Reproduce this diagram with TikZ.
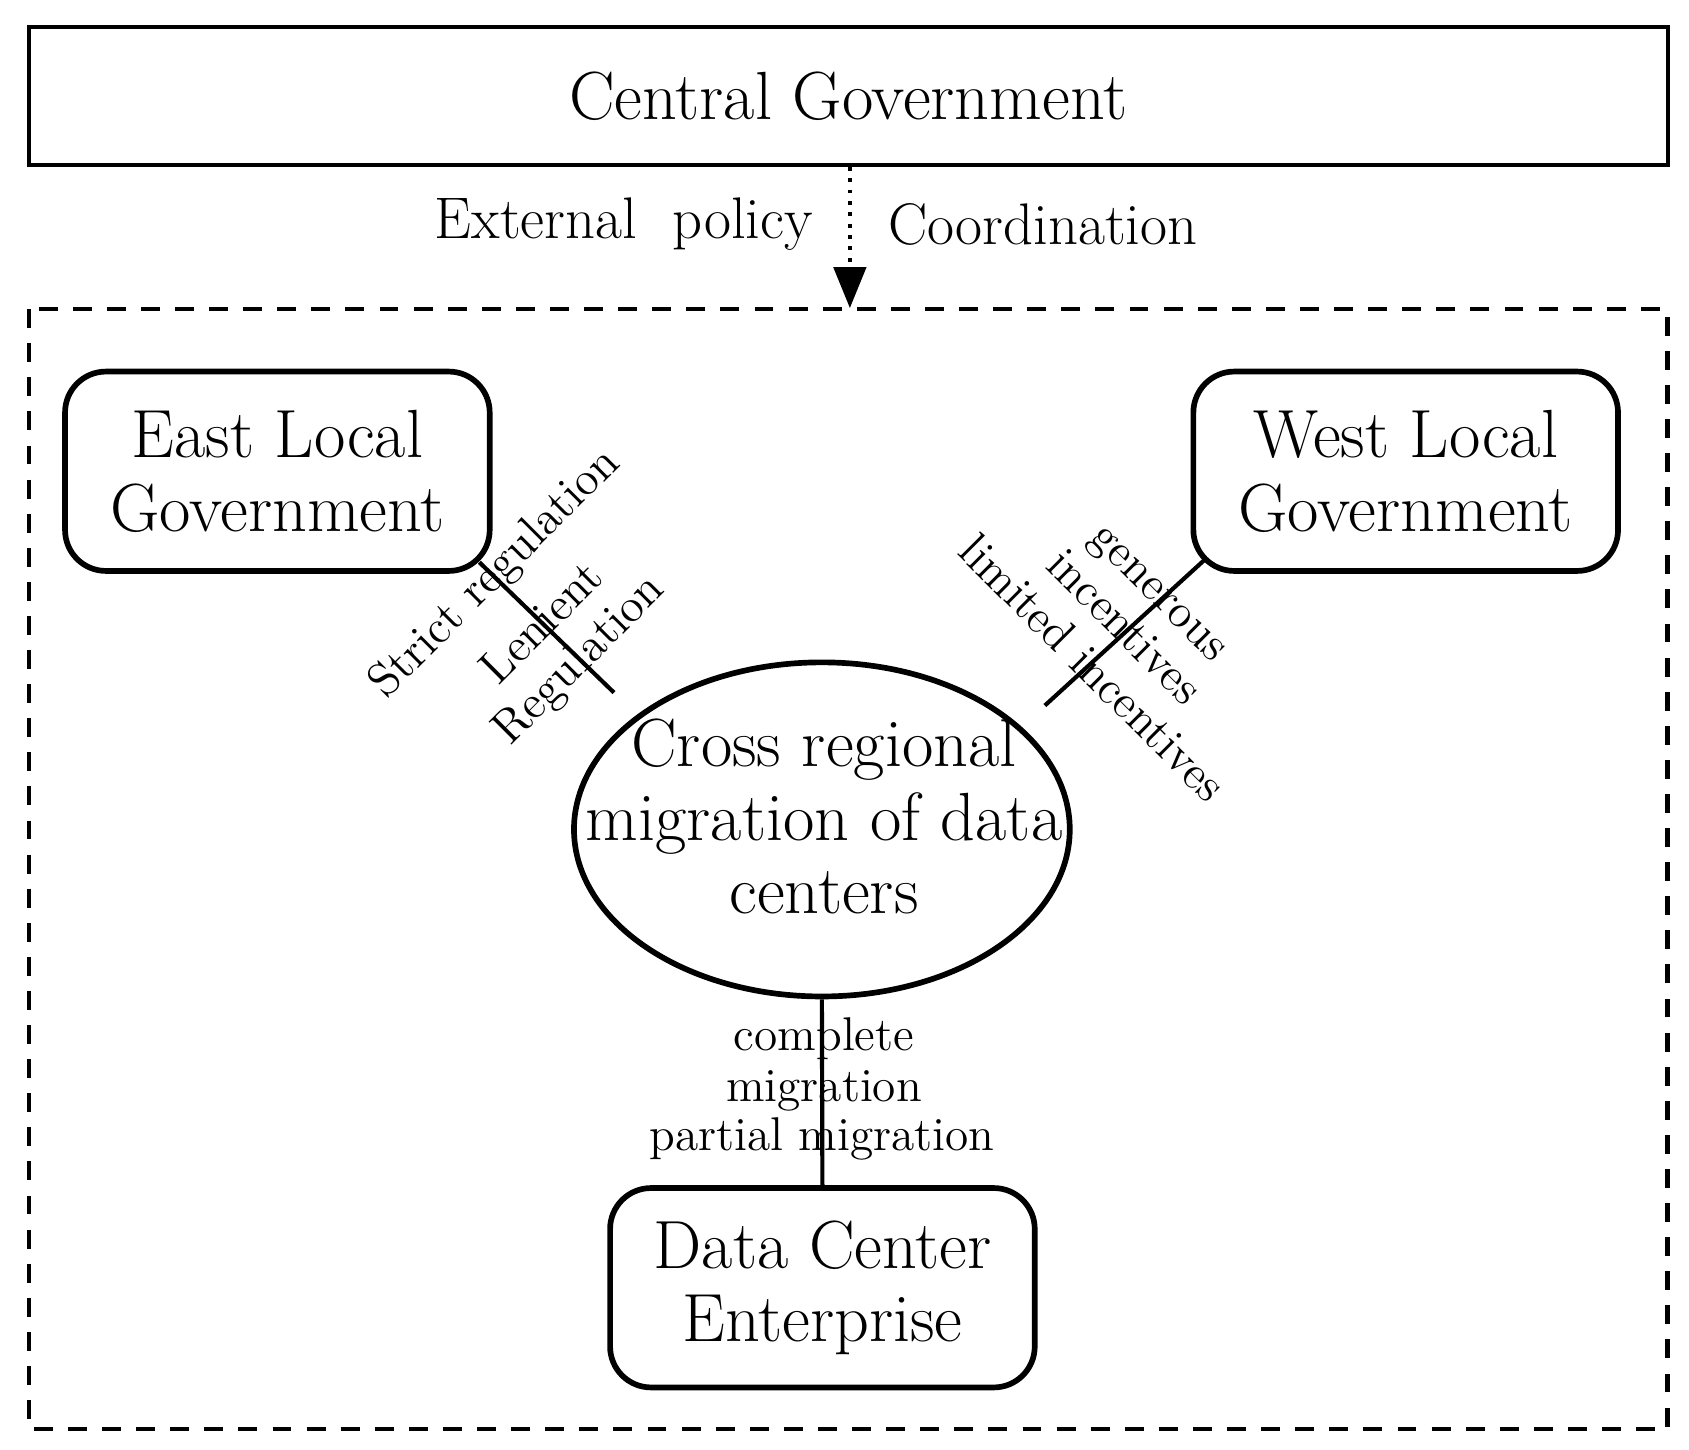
\documentclass[tikz,border=0pt]{standalone}
\usetikzlibrary{shapes.geometric,arrows.meta}
\begin{document}
\begin{tikzpicture}[x=0.01cm,y=-0.01cm,
  big/.style={font=\fontsize{18}{19.5}\selectfont, align=center},
  rbox/.style={draw, line width=1.5pt, rounded corners=0.38cm, minimum width=3.94cm, minimum height=1.85cm, big},
  lab/.style={font=\fontsize{12.5}{13.5}\selectfont, align=center, inner sep=0pt},
  conn/.style={line width=1.1pt}]
\useasboundingbox (0,0) rectangle (1568,1346);
\node[draw, line width=1.1pt, minimum width=15.21cm, minimum height=1.28cm, big] (cg) at (787.5,89) {Central Government};
\draw[line width=1.1pt, dash pattern=on 5pt off 4pt] (27,287) rectangle (1548,1327);
\coordinate (tip) at (789,286);
\draw[dotted, line width=1pt, -{Triangle[length=0.38cm,width=0.3cm]}] (cg.south -| tip) -- (tip);
\node[font=\fontsize{15.5}{18}\selectfont, anchor=east] (ep) at (767,208) {External\ \ policy};
\node[font=\fontsize{15.5}{18}\selectfont, anchor=west] (co) at (812,208) {Coordination};
\node[rbox] (east) at (257.5,437.5) {East Local\\Government};
\node[rbox] (west) at (1305,437.5) {West Local\\Government};
\node[rbox] (dce) at (763.5,1195.5) {Data Center\\Enterprise};
\node[draw, ellipse, line width=1.5pt, minimum width=4.6cm, minimum height=3.1cm, inner sep=0pt] (cr) at (763,770) {};
\node[big] at (765,758) {Cross regional\\migration of data\\centers};
\coordinate (e1) at (445,522);
\coordinate (e2) at (570,643);
\draw[conn] (e1) -- (e2);
\coordinate (w1) at (1118,520);
\coordinate (w2) at (970,655);
\draw[conn] (w1) -- (w2);
\draw[conn] (cr.south) -- (dce.north);
\node[lab, rotate=45] at (460,533) {Strict regulation};
\node[lab, rotate=45] at (522,597) {Lenient\\Regulation};
\node[lab, rotate=-45] at (1058,568) {generous\\incentives};
\node[lab, rotate=-45] at (1015,620) {limited incentives};
\node[lab] at (765,988) {complete\\migration};
\node[lab] at (763,1057) {partial migration};
\end{tikzpicture}
\end{document}
